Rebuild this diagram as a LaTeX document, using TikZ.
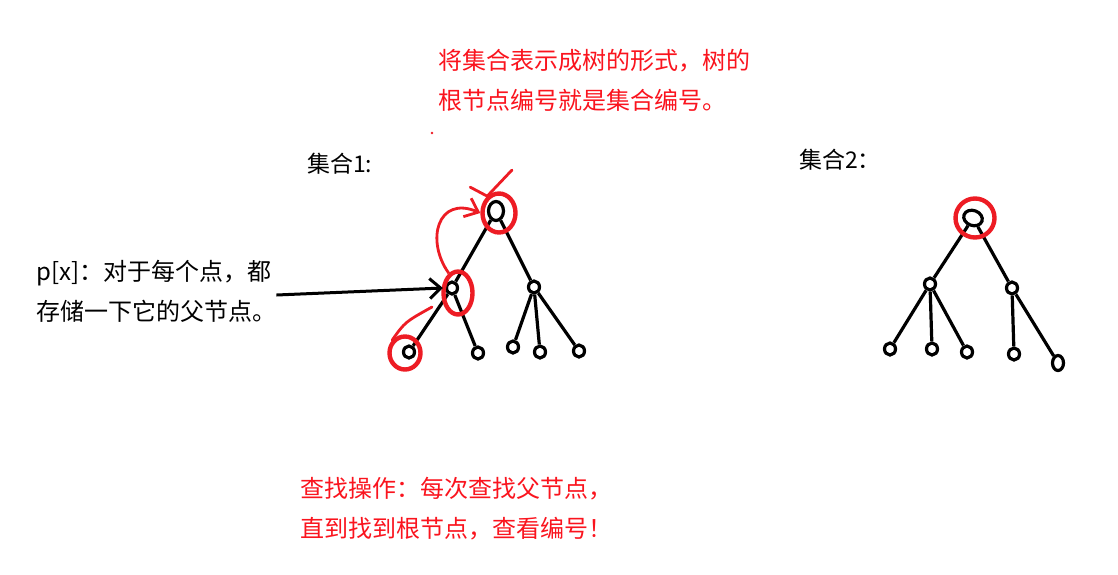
\documentclass[tikz,border=0pt]{standalone}
\usepackage{fontspec}
\setmainfont{Noto Sans CJK SC}
\usepackage{xcolor}
\usepackage{tikz}
\usetikzlibrary{shapes.geometric, arrows.meta}
\definecolor{paintred}{RGB}{237,28,36}
\definecolor{textred}{RGB}{250,20,30}

\begin{document}
\begin{tikzpicture}[x=1pt, y=-1pt,
  vert/.style={ellipse, draw=black, line width=3.2pt, inner sep=0pt,
               minimum width=11pt, minimum height=12pt},
  rootv/.style={vert, minimum width=15pt, minimum height=19pt},
  edge/.style={line width=3.2pt, black},
  ring/.style={ellipse, draw=paintred, line width=4.4pt, inner sep=0pt},
  redarr/.style={line width=2.8pt, paintred, -{Straight Barb[length=12pt, width=20pt]}},
  redln/.style={line width=2.8pt, paintred, line cap=round},
  arr/.style={line width=3pt, -{Straight Barb[length=11pt, width=20pt]}},
  txt/.style={align=left, inner sep=0pt, font=\fontsize{24}{40}\selectfont},
  redtxt/.style={txt, text=textred}
]
\useasboundingbox (0,0) rectangle (1118,574);

% texts
\node[redtxt, anchor=west] (title) at (438,80) {将集合表示成树的形式，树的\\根节点编号就是集合编号。};
\node[txt, anchor=west, font=\fontsize{23}{26}\selectfont] (set1) at (307,164) {集合1:};
\node[txt, anchor=west, font=\fontsize{23}{26}\selectfont] (set2) at (799,160) {集合2：};
\node[txt, anchor=west] (ptext) at (36,291) {p[x]：对于每个点，都\\存储一下它的父节点。};
\node[redtxt, anchor=west] (find) at (300,509) {查找操作：每次查找父节点，\\直到找到根节点，查看编号！};

% set 1
\node[rootv] (r1) at (496,211) {};
\node[vert] (a1) at (452,288) {};
\node[vert] (b1) at (534,287) {};
\node[vert] (a1l) at (409,352) {};
\node[vert] (a1r) at (478,353) {};
\node[vert] (b1l) at (513,347) {};
\node[vert] (b1m) at (540,352) {};
\node[vert] (b1r) at (579,351) {};

\draw[edge] (r1) -- (a1);
\draw[edge] (r1) -- (b1);
\draw[edge] (a1) -- (a1l);
\draw[edge] (a1) -- (a1r);
\draw[edge] (b1) -- (b1l);
\draw[edge] (b1) -- (b1m);
\draw[edge] (b1) -- (b1r);

% set 2
\node[rootv, minimum width=19pt, minimum height=15pt, rotate=-20] (r2) at (973,218) {};
\node[vert] (a2) at (930,284) {};
\node[vert] (b2) at (1012,288) {};
\node[vert] (a2l) at (890,349) {};
\node[vert] (a2m) at (932,349) {};
\node[vert] (a2r) at (967,352) {};
\node[vert] (b2l) at (1014,354) {};
\node[vert, minimum height=15pt] (b2r) at (1058,363) {};

\draw[edge] (r2) -- (a2);
\draw[edge] (r2) -- (b2);
\draw[edge] (a2) -- (a2l);
\draw[edge] (a2) -- (a2m);
\draw[edge] (a2) -- (a2r);
\draw[edge] (b2) -- (b2l);
\draw[edge] (b2) -- (b2r);

% red marks
\node[ring, minimum width=33pt, minimum height=39pt] (ring1) at (499,213) {};
\node[ring, minimum width=29pt, minimum height=43pt] (ring2) at (458,293) {};
\node[ring, minimum width=31pt, minimum height=33pt] (ring3) at (405,353) {};
\node[ring, minimum width=39pt, minimum height=39pt] (ring4) at (975,218) {};

\draw[redarr] (ring2.115) .. controls (425,240) and (438,195) .. (ring1.west);
\draw[redln] (ring3.135) .. controls (405,322) .. (432,307);
\coordinate (tick) at (512,170);
\draw[redln] (tick) -- (ring1.125) -- ++(-17,-9);
\fill[paintred] (432,133) circle (1.3);

\draw[arr] ([yshift=-4pt]ptext.east) -- ([xshift=-2pt]a1.west);

\end{tikzpicture}
\end{document}
